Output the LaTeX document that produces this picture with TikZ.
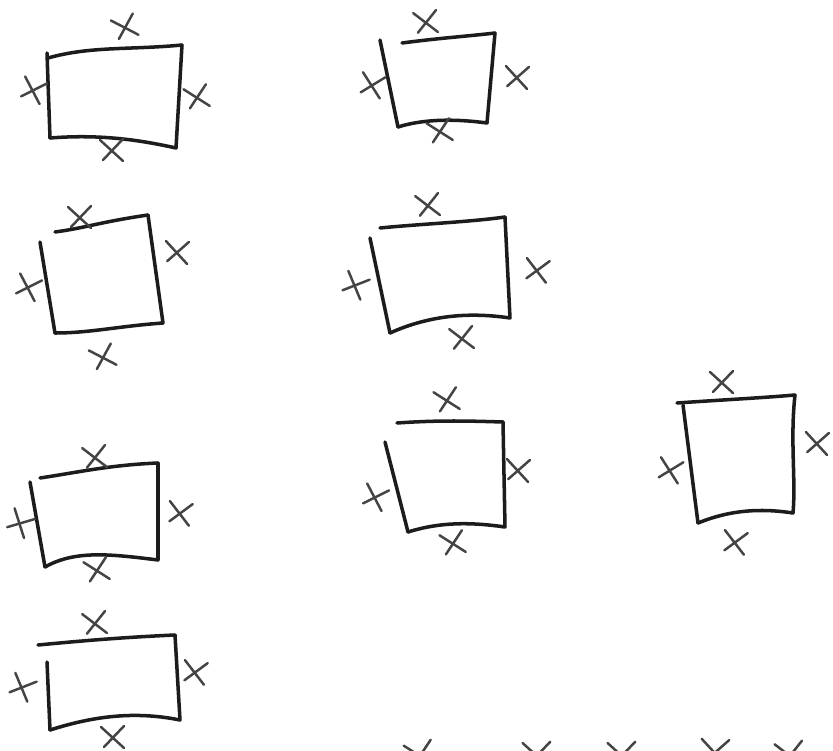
\documentclass[tikz,border=0pt]{standalone}
\usepackage{tikz}
\usetikzlibrary{calc}
\definecolor{pencil}{HTML}{1C1C1C}
\definecolor{lead}{HTML}{444444}

\begin{document}
\begin{tikzpicture}[
    x=0.02cm, y=-0.02cm,
    line cap=round, line join=round,
    outline/.style={draw=pencil, line width=2pt},
    xstroke/.style={draw=lead, line width=1.4pt},
    pics/xmk/.style={code={
        \draw[xstroke] (-12,-10) -- (11,11);
        \draw[xstroke] (-9,10) -- (11,-11);
    }},
]

\useasboundingbox[fill=white] (0,0) rectangle (833,751);

% Box 1: top left
\draw[outline] (48,58) .. controls (90,46) and (130,50) .. (182,45);
\draw[outline] (182,45) -- (176,148) .. controls (140,140) and (100,134) .. (50,138);
\draw[outline] (47,53) -- (50,138);
\foreach \mx/\my/\ma in {125/27/15, 33/90/-20, 197/97/10, 112/150/0} {
    \pic[rotate=\ma] at (\mx,\my) {xmk};
}

% Box 2: top middle
\draw[outline] (402,43) .. controls (440,38) and (470,36) .. (495,33);
\draw[outline] (495,33) -- (487,123) .. controls (450,118) and (420,120) .. (398,127);
\draw[outline] (380,40) -- (398,127);
\foreach \mx/\my/\ma in {426/22/5, 372/85/-15, 517/77/-5, 440/131/10} {
    \pic[rotate=\ma] at (\mx,\my) {xmk};
}

% Box 3: second row, left
\draw[outline] (55,232) .. controls (85,228) and (100,222) .. (148,215);
\draw[outline] (148,215) -- (163,323) .. controls (120,326) and (90,333) .. (55,333);
\draw[outline] (40,242) -- (55,333);
\foreach \mx/\my/\ma in {80/217/0, 28/287/-20, 177/252/-5, 103/357/15} {
    \pic[rotate=\ma] at (\mx,\my) {xmk};
}

% Box 4: second row, middle
\draw[outline] (380,228) .. controls (420,224) and (470,222) .. (505,217);
\draw[outline] (505,217) -- (510,318) .. controls (470,312) and (430,315) .. (390,333);
\draw[outline] (370,238) -- (390,333);
\foreach \mx/\my/\ma in {428/205/5, 355/285/-25, 537/270/-10, 462/338/5} {
    \pic[rotate=\ma] at (\mx,\my) {xmk};
}

% Box 5: third row, left
\draw[outline] (40,478) .. controls (80,472) and (110,465) .. (158,463);
\draw[outline] (158,463) -- (158,560) .. controls (110,554) and (75,550) .. (45,567);
\draw[outline] (30,482) -- (45,567);
\foreach \mx/\my/\ma in {95/457/5, 20/523/-30, 180/513/-10, 97/570/10} {
    \pic[rotate=\ma] at (\mx,\my) {xmk};
}

% Box 6: third row, middle
\draw[outline] (397,423) .. controls (440,420) and (470,421) .. (503,422);
\draw[outline] (503,422) -- (505,527) .. controls (470,522) and (440,522) .. (408,532);
\draw[outline] (385,442) -- (408,532);
\foreach \mx/\my/\ma in {447/400/10, 375/497/-20, 518/470/-5, 453/543/10} {
    \pic[rotate=\ma] at (\mx,\my) {xmk};
}

% Box 7: third row, right
\draw[outline] (677,403) .. controls (720,400) and (760,398) .. (795,395);
\draw[outline] (795,395) .. controls (790,440) and (796,480) .. (793,513)
    .. controls (760,508) and (730,510) .. (698,523);
\draw[outline] (683,405) -- (698,523);
\foreach \mx/\my/\ma in {722/382/0, 670/470/-15, 817/443/-5, 735/542/-10} {
    \pic[rotate=\ma] at (\mx,\my) {xmk};
}

% Box 8: bottom left
\draw[outline] (38,645) .. controls (90,640) and (130,637) .. (175,635);
\draw[outline] (175,635) -- (180,720) .. controls (140,712) and (100,714) .. (50,730);
\draw[outline] (47,662) -- (50,730);
\foreach \mx/\my/\ma in {95/623/5, 22/687/-25, 195/672/-10, 113/737/0} {
    \pic[rotate=\ma] at (\mx,\my) {xmk};
}

% loose marks along the bottom edge
\foreach \mx/\my/\ma in {420/755/10, 537/755/0, 622/755/0, 715/752/-5, 790/755/5} {
    \pic[rotate=\ma, scale=1.2] at (\mx,\my) {xmk};
}

\end{tikzpicture}
\end{document}
